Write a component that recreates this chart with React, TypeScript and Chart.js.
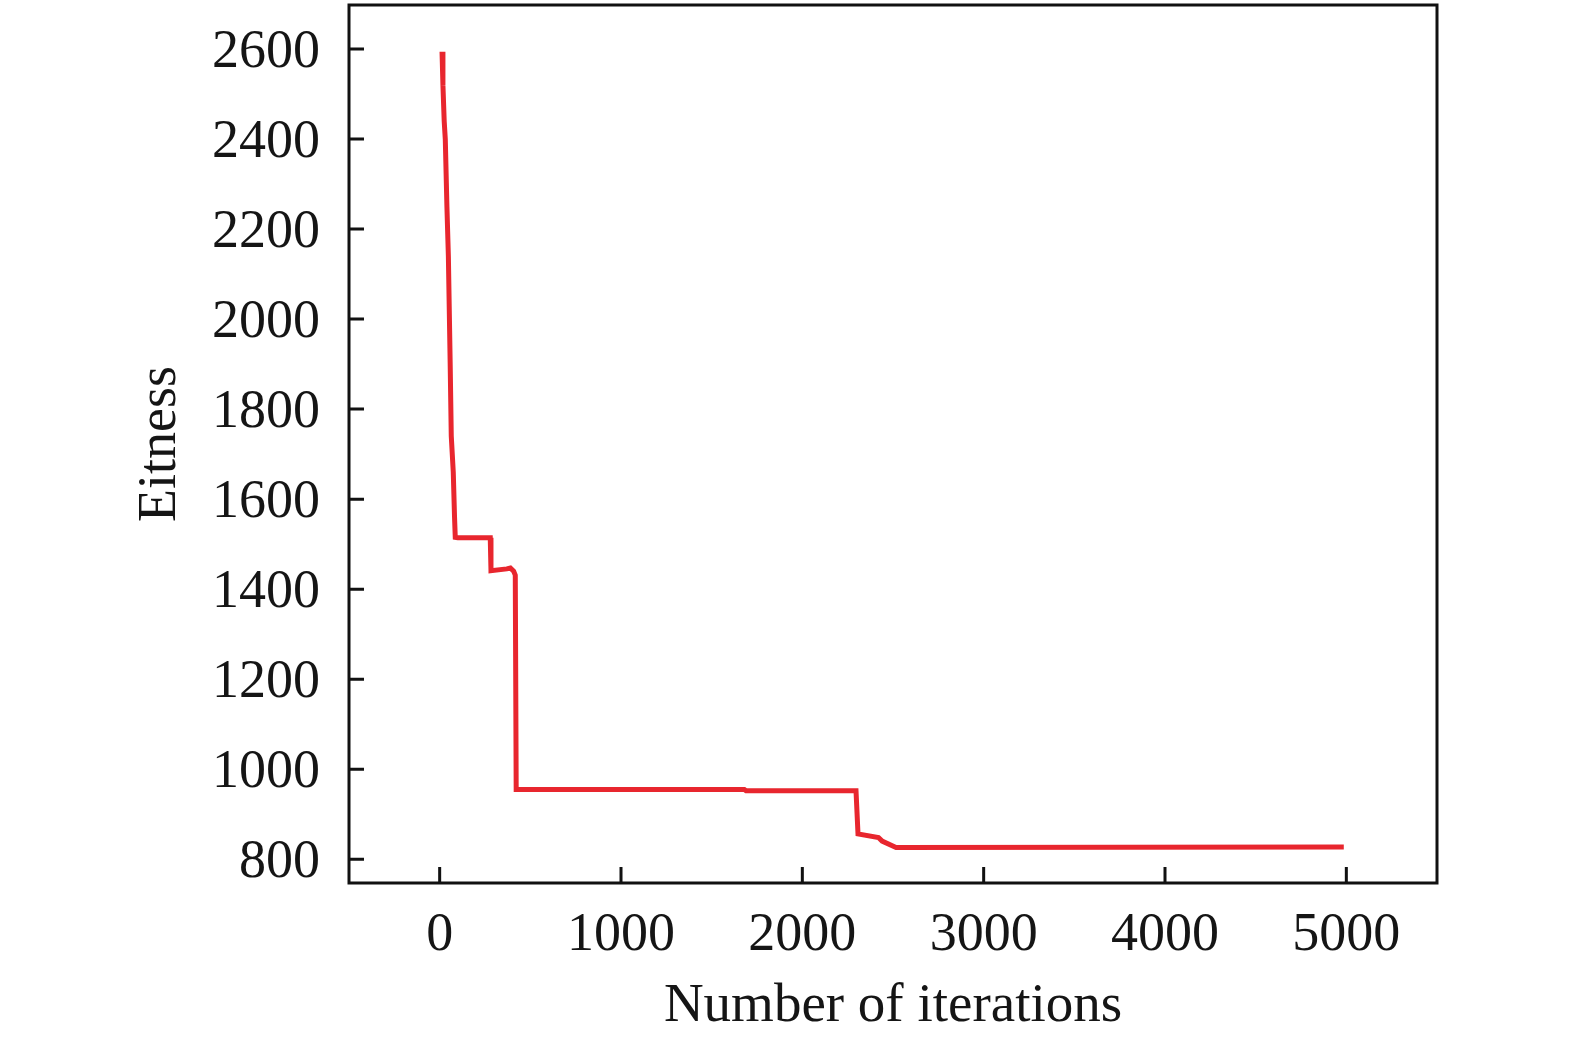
import React, { useEffect, useRef } from "react";
import { Chart, registerables } from "chart.js";

Chart.register(...registerables);

const ITERATIONS = [13, 18, 25, 31, 40, 48, 58, 64, 75, 82, 86, 100, 279, 283, 370, 390, 408, 417, 422, 1680, 1690, 2296, 2307, 2420, 2440, 2517, 4986];
const FITNESS = [2594, 2520, 2440, 2400, 2250, 2140, 1900, 1740, 1660, 1560, 1515, 1514, 1514, 1441, 1445, 1447, 1440, 1431, 955, 955, 952, 952, 856, 848, 840, 826, 827];

const X_TICKS = [0, 1000, 2000, 3000, 4000, 5000];
const Y_TICKS = [800, 1000, 1200, 1400, 1600, 1800, 2000, 2200, 2400, 2600];

const X_TITLE = "Number of iterations";
const Y_TITLE = "Eitness";

const FONT_FAMILY = '"Liberation Serif", "Times New Roman", serif';
const TEXT_COLOR = "#151515";
const LINE_COLOR = "#e8262e";

const framePlugin = {
  id: "frame",
  afterDraw(chart: any) {
    const { ctx, chartArea } = chart;
    const { left, right, top, bottom } = chartArea;
    const xs = chart.scales.x;
    const ys = chart.scales.y;
    ctx.save();
    ctx.strokeStyle = "#111111";
    ctx.lineWidth = 3;
    ctx.beginPath();
    ctx.rect(left, top, right - left, bottom - top);
    ctx.stroke();
    ctx.beginPath();
    for (const v of X_TICKS) {
      const px = xs.getPixelForValue(v);
      ctx.moveTo(px, bottom);
      ctx.lineTo(px, bottom - 16);
    }
    for (const v of Y_TICKS) {
      const py = ys.getPixelForValue(v);
      ctx.moveTo(left, py);
      ctx.lineTo(left + 15, py);
    }
    ctx.stroke();
    ctx.restore();
  },
};

export default function App() {
  const ref = useRef<HTMLCanvasElement | null>(null);

  useEffect(() => {
    if (!ref.current) return;
    const points = ITERATIONS.map((x, i) => ({ x, y: FITNESS[i] }));
    const chart = new Chart(ref.current, {
      type: "line",
      data: {
        datasets: [
          {
            data: points,
            borderColor: LINE_COLOR,
            borderWidth: 5,
            pointRadius: 0,
            tension: 0,
            fill: false,
          },
        ],
      },
      options: {
        animation: false,
        responsive: false,
        maintainAspectRatio: false,
        layout: { padding: { top: 5, right: 138, left: 0, bottom: 0 } },
        plugins: {
          legend: { display: false },
          tooltip: { enabled: false },
        },
        scales: {
          x: {
            type: "linear",
            min: -500,
            max: 5500,
            afterBuildTicks: (scale: any) => {
              scale.ticks = X_TICKS.map((v) => ({ value: v }));
            },
            afterFit: (scale: any) => {
              scale.height = 157;
              scale.paddingLeft = 0;
              scale.paddingRight = 0;
            },
            grid: { display: false, drawTicks: false },
            border: { display: false },
            ticks: {
              padding: 20,
              maxRotation: 0,
              autoSkip: false,
              color: TEXT_COLOR,
              font: { family: FONT_FAMILY, size: 54 },
              callback: (v: any) => String(v),
            },
            title: {
              display: true,
              text: X_TITLE,
              color: TEXT_COLOR,
              font: { family: FONT_FAMILY, size: 55 },
              padding: { top: 0, bottom: 0 },
            },
          },
          y: {
            type: "linear",
            min: 747,
            max: 2698,
            afterBuildTicks: (scale: any) => {
              scale.ticks = Y_TICKS.map((v) => ({ value: v }));
            },
            afterFit: (scale: any) => {
              scale.width = 349;
              scale.paddingTop = 0;
              scale.paddingBottom = 0;
            },
            grid: { display: false, drawTicks: false },
            border: { display: false },
            ticks: {
              padding: 29,
              labelOffset: 4,
              autoSkip: false,
              color: TEXT_COLOR,
              font: { family: FONT_FAMILY, size: 54 },
              callback: (v: any) => String(v),
            },
            title: {
              display: true,
              text: Y_TITLE,
              color: TEXT_COLOR,
              font: { family: FONT_FAMILY, size: 54 },
              padding: { top: 128, bottom: 0 },
            },
          },
        },
      },
      plugins: [framePlugin],
    });
    return () => chart.destroy();
  }, []);

  return (
    <div style={{ position: "fixed", left: 0, top: 0, width: 1575, height: 1040, background: "#ffffff" }}>
      <canvas ref={ref} width={1575} height={1040} style={{ display: "block", width: 1575, height: 1040 }} />
    </div>
  );
}
